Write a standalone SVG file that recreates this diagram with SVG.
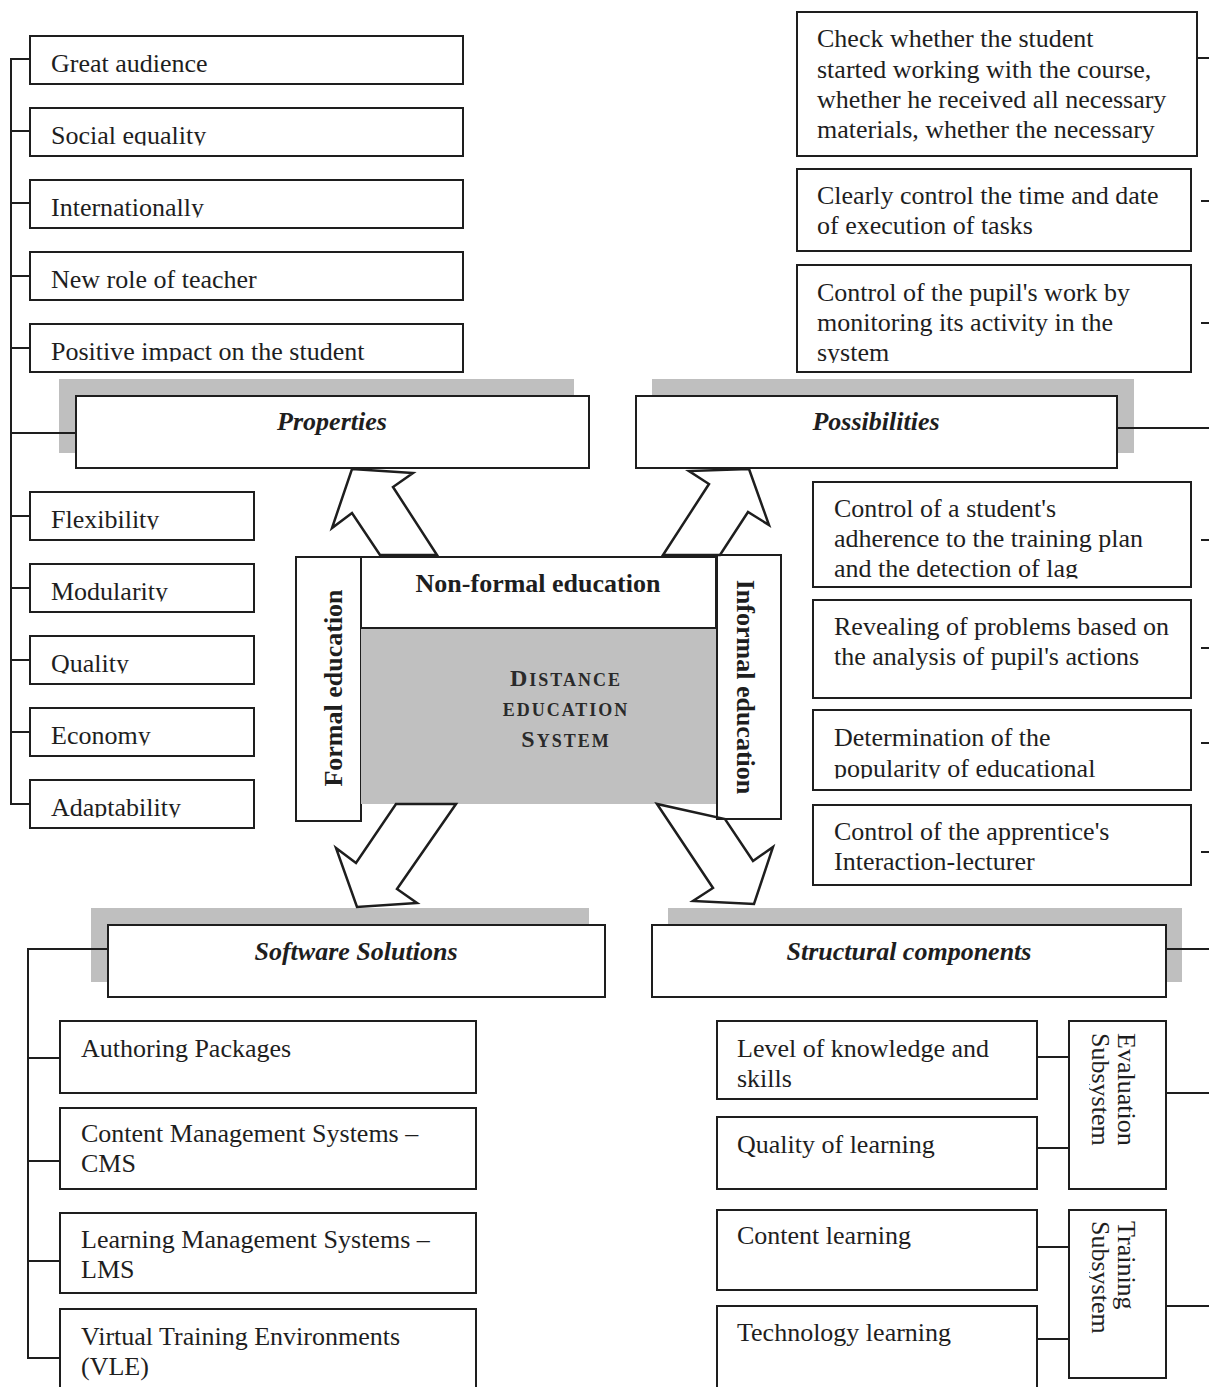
<svg xmlns="http://www.w3.org/2000/svg" width="1209" height="1387" viewBox="0 0 1209 1387">
<style>
.bg{fill:#ffffff}
.box{fill:#ffffff;stroke:#1e1e1e;stroke-width:2}
.shadow{fill:#bfbfbf}
.core{fill:#c0c0c0}
.t{font-family:"Liberation Serif","Times New Roman",serif;font-size:26px;fill:#1e1e1e}
.h{font-weight:bold;font-style:italic;text-anchor:middle}
.b{font-weight:bold}
.ln{stroke:#1e1e1e;stroke-width:2;fill:none}
.arr{fill:none;stroke:#1e1e1e;stroke-width:2.5;stroke-linejoin:miter}
.sc{font-family:"Liberation Serif","Times New Roman",serif;font-weight:bold;fill:#2a2a2a;text-anchor:middle;letter-spacing:2px}
</style>
<defs>
<clipPath id="c1" clipPathUnits="userSpaceOnUse"><rect x="30" y="108" width="433" height="37.5"/></clipPath>
<clipPath id="c2" clipPathUnits="userSpaceOnUse"><rect x="30" y="180" width="433" height="37.5"/></clipPath>
<clipPath id="c3" clipPathUnits="userSpaceOnUse"><rect x="30" y="324" width="433" height="37.5"/></clipPath>
<clipPath id="c4" clipPathUnits="userSpaceOnUse"><rect x="30" y="492" width="224" height="37.5"/></clipPath>
<clipPath id="c5" clipPathUnits="userSpaceOnUse"><rect x="30" y="564" width="224" height="37.5"/></clipPath>
<clipPath id="c6" clipPathUnits="userSpaceOnUse"><rect x="30" y="636" width="224" height="37.5"/></clipPath>
<clipPath id="c7" clipPathUnits="userSpaceOnUse"><rect x="30" y="708" width="224" height="37.5"/></clipPath>
<clipPath id="c8" clipPathUnits="userSpaceOnUse"><rect x="30" y="780" width="224" height="37.5"/></clipPath>
<clipPath id="c9" clipPathUnits="userSpaceOnUse"><rect x="797" y="265" width="394" height="98"/></clipPath>
<clipPath id="c10" clipPathUnits="userSpaceOnUse"><rect x="813" y="482" width="378" height="96.5"/></clipPath>
<clipPath id="c11" clipPathUnits="userSpaceOnUse"><rect x="813" y="710" width="378" height="68.5"/></clipPath>
<clipPath id="c12" clipPathUnits="userSpaceOnUse"><rect x="1089" y="1021" width="77" height="168"/></clipPath>
<clipPath id="c13" clipPathUnits="userSpaceOnUse"><rect x="1089" y="1209" width="77" height="169"/></clipPath>
</defs>
<rect class="bg" x="0" y="0" width="1209" height="1387"/>

<!-- Properties branch -->
<g id="great-audience"><rect class="box" x="30" y="36" width="433" height="48"/><text class="t" x="51" y="71.5">Great audience</text></g>
<g id="social-equality"><rect class="box" x="30" y="108" width="433" height="48"/><text class="t" x="51" y="143.5" clip-path="url(#c1)">Social equality</text></g>
<g id="internationally"><rect class="box" x="30" y="180" width="433" height="48"/><text class="t" x="51" y="215.5" clip-path="url(#c2)">Internationally</text></g>
<g id="new-role"><rect class="box" x="30" y="252" width="433" height="48"/><text class="t" x="51" y="287.5">New role of teacher</text></g>
<g id="positive-impact"><rect class="box" x="30" y="324" width="433" height="48"/><text class="t" x="51" y="359.5" clip-path="url(#c3)">Positive impact on the student</text></g>
<g id="properties"><rect class="shadow" x="59" y="379" width="515" height="74"/><rect class="box" x="76" y="396" width="513" height="72"/><text class="t h" x="332" y="430">Properties</text></g>
<g id="flexibility"><rect class="box" x="30" y="492" width="224" height="48"/><text class="t" x="51" y="527.5" clip-path="url(#c4)">Flexibility</text></g>
<g id="modularity"><rect class="box" x="30" y="564" width="224" height="48"/><text class="t" x="51" y="599.5" clip-path="url(#c5)">Modularity</text></g>
<g id="quality"><rect class="box" x="30" y="636" width="224" height="48"/><text class="t" x="51" y="671.5" clip-path="url(#c6)">Quality</text></g>
<g id="economy"><rect class="box" x="30" y="708" width="224" height="48"/><text class="t" x="51" y="743.5" clip-path="url(#c7)">Economy</text></g>
<g id="adaptability"><rect class="box" x="30" y="780" width="224" height="48"/><text class="t" x="51" y="815.5" clip-path="url(#c8)">Adaptability</text></g>

<!-- Possibilities branch -->
<g id="check-student"><rect class="box" x="797" y="12" width="400" height="144"/>
<text class="t" x="817" y="47">Check whether the student</text>
<text class="t" x="817" y="77.5">started working with the course,</text>
<text class="t" x="817" y="108">whether he received all necessary</text>
<text class="t" x="817" y="138">materials, whether the necessary</text></g>
<g id="control-time"><rect class="box" x="797" y="169" width="394" height="82"/>
<text class="t" x="817" y="204">Clearly control the time and date</text>
<text class="t" x="817" y="234">of execution of tasks</text></g>
<g id="control-work"><rect class="box" x="797" y="265" width="394" height="107"/>
<text class="t" x="817" y="301" clip-path="url(#c9)">Control of the pupil's work by</text>
<text class="t" x="817" y="331" clip-path="url(#c9)">monitoring its activity in the</text>
<text class="t" x="817" y="361" clip-path="url(#c9)">system</text></g>
<g id="possibilities"><rect class="shadow" x="652" y="379" width="482" height="74"/><rect class="box" x="636" y="396" width="481" height="72"/><text class="t h" x="876" y="430">Possibilities</text></g>
<g id="adherence"><rect class="box" x="813" y="482" width="378" height="105"/>
<text class="t" x="834" y="517" clip-path="url(#c10)">Control of a student's</text>
<text class="t" x="834" y="547" clip-path="url(#c10)">adherence to the training plan</text>
<text class="t" x="834" y="576.5" clip-path="url(#c10)">and the detection of lag</text></g>
<g id="revealing"><rect class="box" x="813" y="600" width="378" height="98"/>
<text class="t" x="834" y="635">Revealing of problems based on</text>
<text class="t" x="834" y="665">the analysis of pupil's actions</text></g>
<g id="popularity"><rect class="box" x="813" y="710" width="378" height="80"/>
<text class="t" x="834" y="746" clip-path="url(#c11)">Determination of the</text>
<text class="t" x="834" y="776.5" clip-path="url(#c11)">popularity of educational</text></g>
<g id="interaction"><rect class="box" x="813" y="805" width="378" height="80"/>
<text class="t" x="834" y="840">Control of the apprentice's</text>
<text class="t" x="834" y="870">Interaction-lecturer</text></g>

<!-- Centre -->
<g id="formal-education"><rect class="box" x="296" y="557" width="65" height="264"/><text class="t b" text-anchor="middle" transform="translate(342,688) rotate(-90)">Formal education</text></g>
<g id="distance-education-system"><rect class="core" x="361" y="628" width="356" height="176"/>
<text class="sc" x="566" y="686"><tspan font-size="24">D</tspan><tspan font-size="18">ISTANCE</tspan></text>
<text class="sc" x="566" y="716" font-size="18">EDUCATION</text>
<text class="sc" x="566" y="746.5"><tspan font-size="24">S</tspan><tspan font-size="18">YSTEM</tspan></text></g>
<g id="non-formal-education"><rect class="box" x="361" y="557" width="355" height="71"/><text class="t b" text-anchor="middle" x="538" y="592">Non-formal education</text></g>
<g id="informal-education"><rect class="box" x="717" y="555" width="64" height="264"/><text class="t b" text-anchor="middle" transform="translate(737,687) rotate(90)">Informal education</text></g>

<!-- Software Solutions branch -->
<g id="software-solutions"><rect class="shadow" x="91" y="908" width="498" height="74"/><rect class="box" x="108" y="925" width="497" height="72"/><text class="t h" x="356" y="960">Software Solutions</text></g>
<g id="authoring"><rect class="box" x="60" y="1021" width="416" height="72"/><text class="t" x="81" y="1057">Authoring Packages</text></g>
<g id="cms"><rect class="box" x="60" y="1108" width="416" height="81"/><text class="t" x="81" y="1142">Content Management Systems –</text><text class="t" x="81" y="1172">CMS</text></g>
<g id="lms"><rect class="box" x="60" y="1213" width="416" height="80"/><text class="t" x="81" y="1248">Learning Management Systems –</text><text class="t" x="81" y="1278">LMS</text></g>
<g id="vle"><rect class="box" x="60" y="1309" width="416" height="90"/><text class="t" x="81" y="1345">Virtual Training Environments</text><text class="t" x="81" y="1375">(VLE)</text></g>

<!-- Structural components branch -->
<g id="structural-components"><rect class="shadow" x="668" y="908" width="514" height="74"/><rect class="box" x="652" y="925" width="514" height="72"/><text class="t h" x="909" y="960">Structural components</text></g>
<g id="level-knowledge"><rect class="box" x="717" y="1021" width="320" height="78"/><text class="t" x="737" y="1057">Level of knowledge and</text><text class="t" x="737" y="1087">skills</text></g>
<g id="quality-learning"><rect class="box" x="717" y="1117" width="320" height="72"/><text class="t" x="737" y="1153">Quality of learning</text></g>
<g id="content-learning"><rect class="box" x="717" y="1210" width="320" height="80"/><text class="t" x="737" y="1244">Content learning</text></g>
<g id="technology-learning"><rect class="box" x="717" y="1306" width="320" height="90"/><text class="t" x="737" y="1341">Technology learning</text></g>
<g id="evaluation-subsystem"><rect class="box" x="1069" y="1021" width="97" height="168"/>
<text class="t" transform="translate(1118,1033) rotate(90)">Evaluation</text>
<g clip-path="url(#c12)"><text class="t" transform="translate(1092,1033) rotate(90)">Subsystem</text></g></g>
<g id="training-subsystem"><rect class="box" x="1069" y="1210" width="97" height="168"/>
<text class="t" transform="translate(1118,1221) rotate(90)">Training</text>
<g clip-path="url(#c13)"><text class="t" transform="translate(1092,1221) rotate(90)">Subsystem</text></g></g>

<g id="connectors">
<path class="ln" d="M30,59 H11 V804 H30 M11,131 H30 M11,203 H30 M11,276 H30 M11,348 H30 M11,433 H76 M11,516 H30 M11,588 H30 M11,660 H30 M11,732 H30"/>
<path class="ln" d="M1197,58 H1209 M1201,201 H1209 M1201,323 H1209 M1117,428 H1209 M1201,540 H1209 M1201,648 H1209 M1201,743 H1209 M1201,852 H1209"/>
<path class="ln" d="M108,949 H28 V1358 H60 M28,1058 H60 M28,1161 H60 M28,1261 H60"/>
<path class="ln" d="M1166,949 H1209 M1166,1093 H1209 M1166,1306 H1209 M1037,1057 H1069 M1037,1148 H1069 M1037,1247 H1069 M1037,1339 H1069"/>
<polygon class="arr" points="352,469 413,473 393,487 437,555 380,555 352,513 332,528"/>
<polygon class="arr" points="749,469 769,525 748,512 720,555 663,555 709,484 689,471"/>
<polygon class="arr" points="456,804 397,889 417,903 357,907 336,848 356,863 396,804"/>
<polygon class="arr" points="657,804 713,888 693,901 754,904 773,847 753,861 725,819"/>
</g>
</svg>
